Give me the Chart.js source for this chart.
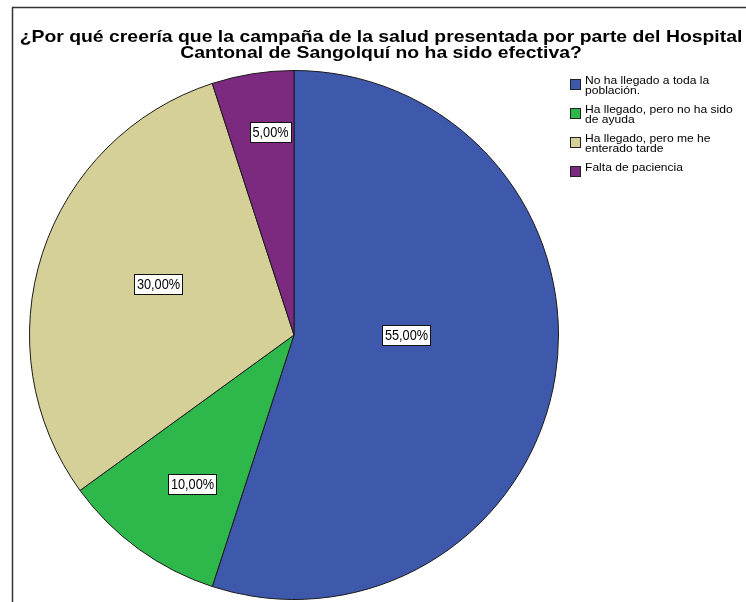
<!DOCTYPE html>
<html>
<head>
<meta charset="utf-8">
<script src="https://cdn.jsdelivr.net/npm/chart.js@4"></script>
<style>
  html, body { margin: 0; padding: 0; background: #fff; }
  #wrap { width: 746px; height: 602px; position: relative; }
</style>
</head>
<body>
<div id="wrap"><canvas id="torta"></canvas></div>
<script>
const titulo = ['¿Por qué creería que la campaña de la salud presentada por parte del Hospital',
                'Cantonal de Sangolquí no ha sido efectiva?'];
const categorias = [
    ['No ha llegado a toda la', 'población.'],
    ['Ha llegado, pero no ha sido', 'de ayuda'],
    ['Ha llegado, pero me he', 'enterado tarde'],
    ['Falta de paciencia']
];
const porcentajes = [55, 10, 30, 5];
const etiquetas = ['55,00%', '10,00%', '30,00%', '5,00%'];

const colores = ['#3E58AC', '#2EB84B', '#D5CF98', '#7C2A7F'];
// distancia de cada etiqueta al centro (fracción del radio) y giro en grados
const distEtiqueta = [0.425, 0.682, 0.549, 0.771];
const giroEtiqueta = [-9, -1.6, 2.7, 2.3];

const extras = {
    id: 'extras',
    afterDraw(chart) {
        const c = chart.ctx;
        c.save();
        // marco
        c.strokeStyle = '#333';
        c.lineWidth = 1.5;
        c.beginPath();
        c.moveTo(12.5, 700);
        c.lineTo(12.5, 7.5);
        c.lineTo(760, 7.5);
        c.stroke();

        // titulo
        c.fillStyle = '#000';
        c.font = 'bold 17px "Liberation Sans", Arial, sans-serif';
        c.textAlign = 'center';
        c.textBaseline = 'alphabetic';
        c.save();
        c.translate(381, 0);
        c.scale(1.14, 1);
        c.fillText(titulo[0], 0, 42);
        c.fillText(titulo[1], 0, 58);
        c.restore();

        // etiquetas de porcentaje
        const meta = chart.getDatasetMeta(0);
        c.font = '15px "Liberation Sans", Arial, sans-serif';
        c.textBaseline = 'middle';
        meta.data.forEach((arc, i) => {
            const p = arc.getProps(['x', 'y', 'startAngle', 'endAngle', 'outerRadius']);
            const a = (p.startAngle + p.endAngle) / 2 + giroEtiqueta[i] * Math.PI / 180;
            const r = p.outerRadius * distEtiqueta[i];
            const x = p.x + Math.cos(a) * r;
            const y = p.y + Math.sin(a) * r;
            const w = c.measureText(etiquetas[i]).width * 0.85 + 5;
            const bx = Math.round(x - w / 2) + 0.5;
            const by = Math.round(y - 10) + 0.5;
            c.fillStyle = '#fff';
            c.fillRect(bx, by, Math.round(w), 20);
            c.strokeStyle = '#111';
            c.lineWidth = 1;
            c.strokeRect(bx, by, Math.round(w), 20);
            c.fillStyle = '#000';
            c.textAlign = 'center';
            c.save();
            c.translate(Math.round(x) + 0.5, Math.round(y) + 1);
            c.scale(0.85, 1);
            c.fillText(etiquetas[i], 0, 0);
            c.restore();
        });

        // leyenda
        c.font = '11.5px "Liberation Sans", Arial, sans-serif';
        c.textAlign = 'left';
        c.textBaseline = 'alphabetic';
        let y = 84;
        categorias.forEach((lineas, i) => {
            c.fillStyle = colores[i];
            c.fillRect(570.5, y - 4.5, 10, 10);
            c.strokeStyle = '#222';
            c.lineWidth = 1;
            c.strokeRect(570.5, y - 4.5, 10, 10);
            c.fillStyle = '#000';
            lineas.forEach((t, k) => {
                c.save();
                c.translate(585, y + k * 10);
                c.scale(1.05, 1);
                c.fillText(t, 0, 0);
                c.restore();
            });
            y += (lineas.length - 1) * 10 + 19;
        });
        c.restore();
    }
};

new Chart(document.getElementById('torta'), {
    type: 'pie',
    data: {
        labels: categorias,
        datasets: [{
            data: porcentajes,
            backgroundColor: colores,
            borderColor: '#1a1a1a',
            borderWidth: 1
        }]
    },
    options: {
        responsive: true,
        maintainAspectRatio: false,
        animation: false,
        layout: { padding: { top: 70, bottom: 2, left: 29, right: 187 } },
        plugins: {
            legend: { display: false },
            title: { display: false },
            tooltip: { enabled: false }
        }
    },
    plugins: [extras]
});
</script>
</body>
</html>
